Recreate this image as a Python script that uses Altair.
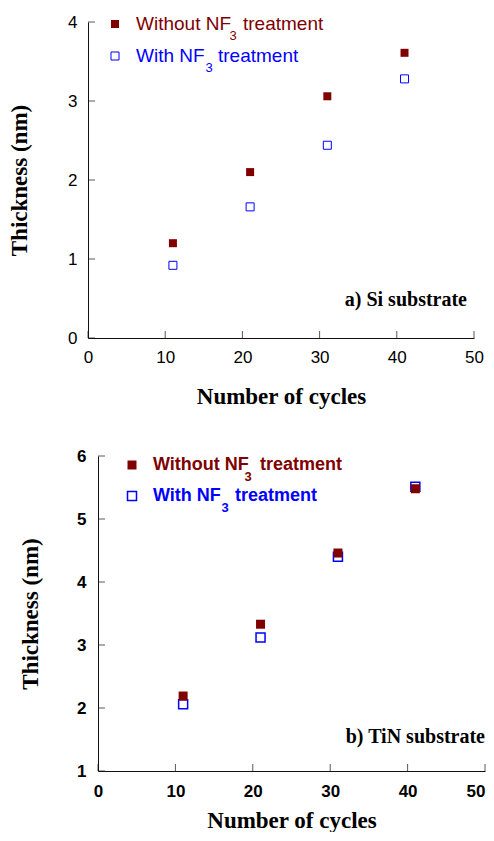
import altair as alt
import pandas as pd

# ---- data ----
cycles = [11, 21, 31, 41]
si_without = [1.20, 2.10, 3.06, 3.61]
si_with = [0.92, 1.66, 2.44, 3.28]
tin_without = [2.19, 3.33, 4.46, 5.48]
tin_with = [2.06, 3.12, 4.40, 5.51]
x_ticks = [0, 10, 20, 30, 40, 50]
si_y_ticks = [0, 1, 2, 3, 4]
tin_y_ticks = [1, 2, 3, 4, 5, 6]
legend_without = ["Without NF", "3", "treatment"]
legend_with = ["With NF", "3", "treatment"]

RED = "#800000"
BLUE = "#0000FF"
SANS = "Liberation Sans"
SERIF = "Liberation Serif"


def one(text):
    return alt.Chart(pd.DataFrame({"t": [text]}))


def panel(without, with_, yticks, W, H, cfg):
    weight = "bold" if cfg["bold"] else "normal"
    sh = cfg["shift"]  # left inset of the axes inside the view
    xs = alt.Scale(domain=[0, 50], nice=False, zero=False, range=[sh, W])
    ys = alt.Scale(domain=[yticks[0], yticks[-1]], nice=False, zero=False)
    label_align = {"condition": {"test": f"datum.value == {x_ticks[-1]}", "value": "right"},
                   "value": "center"} if cfg["flush_last"] else "center"
    xax = alt.Axis(values=x_ticks, ticks=False, grid=False, domainColor="#111",
                   labelFont=SANS, labelFontSize=17, labelFontWeight=weight,
                   labelColor="#000", labelPadding=cfg["xlp"], labelFlush=False,
                   labelAlign=label_align,
                   title="Number of cycles", titleFont=SERIF, titleFontSize=23,
                   titleFontWeight="bold", titleColor="#000", titlePadding=cfg["xtp"])
    yax = alt.Axis(values=yticks, ticks=False, grid=False, domainColor="#111",
                   labelFont=SANS, labelFontSize=17, labelFontWeight=weight,
                   labelColor="#000", labelPadding=cfg["ylp"], labelFlush=False,
                   offset=-sh,
                   title="Thickness (nm)", titleFont=SERIF, titleFontSize=23,
                   titleFontWeight="bold", titleColor="#000", titlePadding=cfg["ytp"])

    d_with = pd.DataFrame({"cycles": cycles, "thk": with_})
    d_without = pd.DataFrame({"cycles": cycles, "thk": without})

    pts_with = alt.Chart(d_with).mark_point(
        shape="square", filled=False, color=BLUE, size=cfg["ps"], strokeWidth=cfg["sw"], opacity=1
    ).encode(x=alt.X("cycles:Q", scale=xs, axis=xax), y=alt.Y("thk:Q", scale=ys, axis=yax))
    pts_without = alt.Chart(d_without).mark_square(
        color=RED, size=cfg["ps"], opacity=1
    ).encode(x=alt.X("cycles:Q", scale=xs, axis=xax), y=alt.Y("thk:Q", scale=ys, axis=yax))

    xt = alt.Chart(pd.DataFrame({"v": x_ticks})).mark_tick(
        orient="vertical", size=7, thickness=1, color="#111"
    ).encode(x=alt.X("v:Q", scale=xs, axis=xax), y=alt.value(H - 3.5))
    yt = alt.Chart(pd.DataFrame({"v": yticks})).mark_tick(
        orient="horizontal", size=7, thickness=1, color="#111"
    ).encode(y=alt.Y("v:Q", scale=ys, axis=yax), x=alt.value(sh + 3.5))

    lg = cfg["legend"]
    layers = [xt, yt, pts_with, pts_without]
    layers.append(one("a").mark_point(shape="square", filled=False, color=BLUE, size=cfg["ps"],
                                      strokeWidth=cfg["sw"], opacity=1)
                  .encode(x=alt.value(sh + lg["sx"]), y=alt.value(lg["y2"])))
    layers.append(one("a").mark_square(color=RED, size=cfg["ps"], opacity=1)
                  .encode(x=alt.value(sh + lg["sx"]), y=alt.value(lg["y1"])))
    for parts, col, yy, subx, tx in [
        (legend_without, RED, lg["y1"], lg["sub1"], lg["t1"]),
        (legend_with, BLUE, lg["y2"], lg["sub2"], lg["t2"]),
    ]:
        layers.append(one(parts[0]).mark_text(align="left", baseline="middle", font=SANS,
                                              fontSize=cfg["lfs"], fontWeight=weight, color=col)
                      .encode(text="t:N", x=alt.value(sh + lg["tx"]), y=alt.value(yy)))
        layers.append(one(parts[1]).mark_text(align="center", baseline="middle", font=SANS,
                                              fontSize=13, fontWeight=weight, color=col)
                      .encode(text="t:N", x=alt.value(sh + subx), y=alt.value(yy + 12)))
        layers.append(one(parts[2]).mark_text(align="left", baseline="middle", font=SANS,
                                              fontSize=cfg["lfs"], fontWeight=weight, color=col)
                      .encode(text="t:N", x=alt.value(sh + tx), y=alt.value(yy)))
    layers.append(one(cfg["note"]).mark_text(align="right", baseline="middle", font=SERIF,
                                             fontSize=20, fontWeight="bold", color="#000")
                  .encode(text="t:N", x=alt.value(sh + cfg["nx"]), y=alt.value(cfg["ny"])))
    return alt.layer(*layers).properties(width=W, height=H)


top = panel(si_without, si_with, si_y_ticks, 386, 316, {
    "shift": 0, "bold": False, "flush_last": False,
    "xlp": 11, "xtp": 20, "ylp": 11, "ytp": 36, "ps": 64, "sw": 1, "lfs": 19,
    "legend": {"sx": 27, "tx": 48, "y1": 2, "y2": 34, "sub1": 145, "sub2": 121,
               "t1": 155, "t2": 130},
    "note": "a) Si substrate", "nx": 379, "ny": 278,
})
bottom = panel(tin_without, tin_with, tin_y_ticks, 397, 315, {
    "shift": 10, "bold": True, "flush_last": True,
    "xlp": 12, "xtp": 10, "ylp": 12, "ytp": 34, "ps": 81, "sw": 1.5, "lfs": 18,
    "legend": {"sx": 34, "tx": 55, "y1": 9, "y2": 40, "sub1": 150, "sub2": 127,
               "t1": 162, "t2": 137},
    "note": "b) TiN substrate", "nx": 387, "ny": 281,
})

chart = alt.vconcat(top, bottom, spacing=39).properties(
    padding={"left": 0, "top": 5, "right": 0, "bottom": 0}
).configure_view(stroke=None)

chart.save("out.html", embed_options={"renderer": "svg", "actions": False})
